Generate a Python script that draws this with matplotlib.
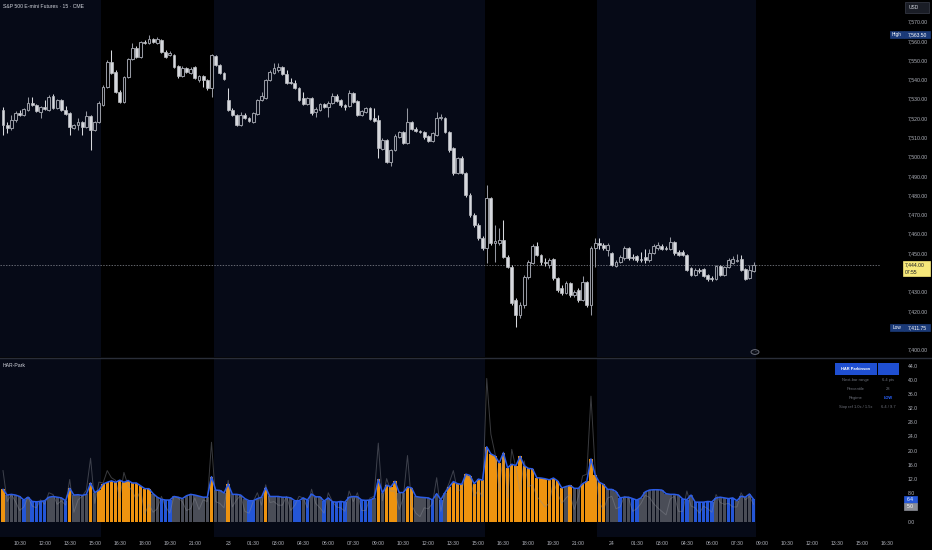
import numpy as np
import matplotlib
matplotlib.use("Agg")
import matplotlib.pyplot as plt
from matplotlib.patches import Rectangle, Circle
from matplotlib.transforms import blended_transform_factory as blend

# ---- price data (15 min bars) ----
open_ = [
    7524.5, 7516.5, 7515.0, 7519.25, 7522.75, 7521.75, 7524.5, 7528.0, 7527.0, 7523.5,
    7526.0, 7524.5, 7531.75, 7525.5, 7529.5, 7524.5, 7522.75, 7515.0, 7516.5, 7518.25,
    7515.5, 7521.25, 7514.0, 7518.25, 7527.0, 7536.25, 7549.25, 7544.0, 7533.75, 7528.5,
    7541.5, 7550.75, 7556.5, 7552.0, 7559.5, 7559.0, 7561.25, 7559.0, 7560.75, 7554.5,
    7553.0, 7553.0, 7547.25, 7542.0, 7546.25, 7543.5, 7546.75, 7540.0, 7542.0, 7540.0,
    7535.75, 7552.5, 7547.75, 7543.5, 7529.5, 7524.5, 7521.75, 7516.5, 7521.75, 7520.25,
    7518.25, 7522.25, 7529.5, 7530.5, 7540.0, 7543.5, 7545.0, 7546.75, 7543.0, 7539.0,
    7538.5, 7535.75, 7530.5, 7527.5, 7530.5, 7523.5, 7524.5, 7527.5, 7526.0, 7528.0,
    7531.75, 7529.5, 7527.0, 7526.5, 7533.25, 7529.0, 7521.75, 7523.5, 7525.5, 7520.25,
    7519.25, 7504.25, 7508.75, 7497.5, 7503.75, 7510.5, 7513.0, 7507.25, 7518.25, 7514.5,
    7513.5, 7513.0, 7511.0, 7508.25, 7511.5, 7520.25, 7520.25, 7513.0, 7504.75, 7491.75,
    7499.5, 7491.75, 7480.5, 7470.0, 7464.75, 7458.0, 7453.0, 7478.75, 7455.5, 7455.5,
    7457.0, 7448.25, 7443.0, 7426.0, 7418.25, 7423.5, 7438.0, 7445.0, 7454.0, 7449.25,
    7445.5, 7444.0, 7447.25, 7437.5, 7432.25, 7429.5, 7434.75, 7428.5, 7431.0, 7426.0,
    7435.25, 7423.5, 7453.0, 7455.5, 7454.5, 7452.0, 7450.25, 7443.5, 7445.5, 7447.75,
    7453.0, 7448.25, 7448.75, 7447.25, 7448.25, 7446.75, 7450.25, 7453.0, 7454.0, 7453.0,
    7452.5, 7456.0, 7450.75, 7450.75, 7449.25, 7442.5, 7439.0, 7441.5, 7442.0, 7439.0,
    7437.5, 7436.75, 7443.5, 7439.0, 7443.0, 7445.0, 7446.25, 7447.25, 7442.0, 7437.5,
    7441.0,
]
high = [
    7526.0, 7518.25, 7521.75, 7524.0, 7524.5, 7525.5, 7531.0, 7531.0, 7527.5, 7526.5,
    7529.5, 7532.25, 7532.75, 7530.0, 7530.0, 7526.5, 7523.5, 7517.25, 7520.25, 7518.75,
    7524.0, 7521.75, 7518.75, 7529.0, 7537.5, 7550.25, 7555.5, 7545.0, 7534.75, 7542.0,
    7551.25, 7559.0, 7557.5, 7560.25, 7560.75, 7563.5, 7561.75, 7562.25, 7561.25, 7555.5,
    7555.0, 7553.5, 7547.75, 7547.25, 7546.75, 7546.75, 7547.25, 7542.5, 7542.5, 7540.5,
    7553.5, 7553.0, 7548.25, 7544.0, 7535.75, 7525.5, 7522.25, 7523.5, 7522.75, 7520.75,
    7523.5, 7530.0, 7533.75, 7540.5, 7545.0, 7548.75, 7548.75, 7547.25, 7545.0, 7541.0,
    7540.0, 7536.25, 7533.75, 7531.0, 7531.0, 7526.0, 7528.0, 7528.0, 7529.0, 7533.25,
    7532.75, 7530.0, 7527.5, 7534.75, 7533.75, 7529.5, 7524.5, 7526.0, 7526.0, 7525.5,
    7521.75, 7509.75, 7509.25, 7504.25, 7512.0, 7513.5, 7513.5, 7525.5, 7518.75, 7515.5,
    7514.0, 7513.5, 7511.5, 7513.0, 7523.5, 7522.25, 7520.75, 7513.5, 7505.25, 7500.0,
    7500.5, 7492.25, 7481.5, 7471.0, 7466.0, 7459.0, 7485.5, 7479.25, 7464.75, 7463.25,
    7467.5, 7449.25, 7444.0, 7427.0, 7425.0, 7439.0, 7446.75, 7455.0, 7456.0, 7449.75,
    7447.75, 7447.75, 7447.75, 7438.0, 7433.75, 7435.75, 7435.25, 7431.0, 7432.25, 7438.5,
    7435.75, 7453.75, 7458.0, 7458.0, 7455.5, 7455.5, 7450.75, 7446.75, 7449.25, 7454.0,
    7453.5, 7449.75, 7449.25, 7450.75, 7452.5, 7452.5, 7455.0, 7456.0, 7455.0, 7454.0,
    7458.5, 7456.5, 7451.75, 7451.75, 7449.75, 7443.0, 7442.5, 7442.5, 7442.5, 7439.5,
    7438.5, 7444.0, 7444.0, 7443.5, 7447.75, 7448.75, 7449.75, 7449.25, 7442.5, 7444.0,
    7445.5,
]
low = [
    7511.5, 7512.5, 7514.0, 7518.25, 7521.25, 7521.25, 7524.0, 7526.5, 7523.5, 7520.25,
    7524.5, 7524.0, 7525.0, 7525.0, 7524.0, 7521.75, 7511.5, 7514.5, 7514.0, 7511.5,
    7515.0, 7503.75, 7513.5, 7517.75, 7526.5, 7535.75, 7543.0, 7533.25, 7528.0, 7528.0,
    7541.0, 7550.25, 7551.25, 7551.25, 7558.5, 7558.5, 7559.0, 7558.5, 7554.0, 7551.25,
    7552.5, 7546.25, 7541.0, 7541.5, 7543.5, 7543.0, 7540.5, 7539.0, 7536.25, 7534.75,
    7531.0, 7547.25, 7543.0, 7540.0, 7524.0, 7521.25, 7516.0, 7516.0, 7519.75, 7518.25,
    7517.75, 7521.75, 7529.0, 7530.0, 7539.5, 7543.0, 7544.0, 7542.5, 7537.75, 7537.75,
    7535.25, 7529.0, 7527.0, 7527.0, 7521.75, 7520.75, 7524.0, 7525.5, 7520.75, 7527.5,
    7528.5, 7526.0, 7524.5, 7526.0, 7528.0, 7521.25, 7521.25, 7522.75, 7519.25, 7518.25,
    7499.5, 7503.75, 7497.0, 7495.5, 7503.25, 7510.0, 7506.75, 7506.75, 7514.0, 7513.0,
    7512.5, 7509.5, 7507.75, 7507.75, 7511.0, 7519.25, 7512.5, 7502.5, 7490.75, 7491.25,
    7491.25, 7479.25, 7469.0, 7463.75, 7457.0, 7452.0, 7445.0, 7454.5, 7445.5, 7454.5,
    7447.75, 7442.5, 7423.5, 7411.75, 7416.5, 7421.75, 7436.75, 7444.5, 7448.75, 7444.0,
    7443.5, 7442.5, 7436.25, 7430.0, 7428.5, 7429.0, 7427.5, 7427.5, 7425.0, 7425.5,
    7422.25, 7418.25, 7443.0, 7452.5, 7452.0, 7448.75, 7443.5, 7443.0, 7445.0, 7446.75,
    7446.75, 7446.75, 7445.5, 7445.5, 7445.0, 7445.5, 7449.75, 7452.0, 7452.0, 7452.0,
    7452.0, 7449.25, 7448.75, 7448.75, 7441.0, 7438.5, 7438.5, 7440.0, 7438.0, 7435.75,
    7435.75, 7436.25, 7438.5, 7438.5, 7442.5, 7444.5, 7445.5, 7441.0, 7436.25, 7436.75,
    7440.5,
]
close = [
    7516.5, 7515.0, 7519.25, 7522.75, 7521.75, 7525.0, 7528.0, 7527.0, 7524.0, 7526.0,
    7525.0, 7531.0, 7525.5, 7529.5, 7524.5, 7522.25, 7515.5, 7516.5, 7518.25, 7515.5,
    7521.25, 7514.0, 7518.25, 7528.0, 7536.25, 7549.25, 7543.5, 7533.75, 7528.5, 7541.5,
    7550.75, 7556.5, 7552.0, 7559.5, 7559.0, 7561.25, 7559.5, 7561.25, 7554.5, 7552.0,
    7554.0, 7546.75, 7542.0, 7546.25, 7544.0, 7545.5, 7541.0, 7542.0, 7540.0, 7535.75,
    7553.0, 7547.75, 7543.5, 7540.5, 7524.5, 7521.75, 7516.5, 7521.75, 7520.25, 7518.75,
    7522.75, 7529.5, 7531.75, 7540.0, 7544.0, 7546.25, 7546.75, 7543.0, 7538.5, 7538.5,
    7535.75, 7529.5, 7527.5, 7530.5, 7522.75, 7525.0, 7527.5, 7526.0, 7528.0, 7531.75,
    7529.0, 7527.0, 7526.0, 7533.25, 7528.5, 7521.75, 7524.0, 7525.5, 7519.75, 7518.75,
    7504.75, 7508.75, 7497.5, 7503.75, 7511.0, 7513.0, 7507.25, 7518.25, 7514.5, 7513.5,
    7513.0, 7510.5, 7508.25, 7512.5, 7520.25, 7520.75, 7513.0, 7503.75, 7491.75, 7499.5,
    7491.75, 7480.5, 7470.0, 7464.75, 7458.0, 7453.0, 7478.75, 7455.5, 7456.5, 7457.0,
    7448.25, 7443.0, 7424.5, 7418.25, 7423.5, 7438.0, 7445.5, 7454.0, 7449.25, 7445.5,
    7445.0, 7446.75, 7437.5, 7431.0, 7429.5, 7434.75, 7428.5, 7430.0, 7426.0, 7435.25,
    7423.5, 7453.0, 7455.5, 7454.5, 7453.0, 7454.5, 7444.0, 7445.5, 7448.25, 7453.0,
    7447.75, 7447.75, 7446.75, 7446.75, 7446.75, 7450.25, 7454.0, 7454.5, 7452.5, 7452.5,
    7456.0, 7450.25, 7449.25, 7449.25, 7441.5, 7439.0, 7441.5, 7441.0, 7438.5, 7436.75,
    7436.75, 7443.5, 7439.0, 7443.0, 7446.75, 7447.25, 7446.75, 7441.5, 7436.75, 7441.5,
    7444.0,
]

# ---- HAR-Park indicator: forecast range and regime per bar ----
forecast = [
    9.2, 7.6, 7.8, 7.6, 7.2, 6.2, 7.0, 5.8, 5.7, 5.8,
    6.0, 7.0, 7.2, 7.0, 6.8, 6.0, 9.5, 7.6, 7.7, 7.5,
    7.8, 11.0, 8.3, 9.0, 10.7, 11.2, 11.6, 11.2, 11.8, 11.2,
    11.7, 11.0, 11.0, 10.2, 9.4, 9.4, 8.0, 7.0, 6.4, 6.2,
    6.2, 7.2, 7.0, 6.6, 7.4, 7.8, 7.6, 7.3, 7.0, 7.0,
    12.8, 9.0, 8.9, 8.2, 10.7, 7.8, 7.8, 7.6, 6.6, 6.0,
    6.0, 6.6, 7.0, 9.7, 7.2, 7.2, 7.2, 7.0, 7.0, 6.8,
    6.0, 6.0, 6.8, 6.2, 7.9, 7.1, 7.1, 5.9, 6.8, 5.7,
    5.6, 5.8, 5.6, 7.0, 7.2, 7.1, 6.2, 6.1, 6.2, 6.7,
    12.0, 8.2, 10.4, 9.9, 11.5, 8.3, 8.3, 9.9, 9.6, 7.2,
    7.0, 6.9, 6.8, 6.2, 8.0, 6.3, 8.3, 9.9, 11.4, 10.8,
    10.6, 13.5, 13.1, 10.8, 12.1, 11.8, 21.2, 19.2, 18.6, 16.7,
    19.5, 15.3, 16.3, 15.9, 18.5, 15.9, 15.1, 15.0, 12.5, 12.4,
    12.2, 11.9, 12.4, 11.6, 9.6, 10.0, 10.3, 9.5, 9.5, 10.8,
    11.5, 17.8, 13.3, 11.2, 10.6, 9.2, 9.2, 8.6, 6.8, 7.0,
    7.0, 6.6, 6.2, 6.8, 8.5, 9.0, 9.1, 9.1, 9.0, 8.0,
    7.8, 7.8, 7.6, 6.5, 6.3, 7.6, 5.6, 5.6, 5.6, 5.8,
    5.7, 6.8, 7.0, 6.8, 6.6, 6.8, 6.0, 7.3, 7.0, 7.9,
    6.4,
]
# o = HIGH, g = NORMAL, b = LOW
regime = ("oggggbgbbb" "bggggboggg" "gogooooooo" "ooooooggbb" "bggggggggg"
          "ogggoggggb" "bggogggggg" "bbgbgggbgb" "bbbgggbbbg" "ogoooggoog"
          "gggbgbgooo" "oooooooooo" "oooooooooo" "ooooogoggo" "ooooogggbg"
          "gbbggggggg" "gggbbgbbbb" "bgggbbgggg" "b")

tick_pos = [4, 10, 16, 22, 28, 34, 40, 46, 54, 60, 66, 72, 78, 84, 90, 96, 102, 108,
            114, 120, 126, 132, 138, 146, 152, 158, 164, 170, 176, 182, 188, 194,
            200, 206, 212]
tick_lbl = ["10:30", "12:00", "13:30", "15:00", "16:30", "18:00", "19:30", "21:00", "23",
            "01:30", "03:00", "04:30", "06:00", "07:30", "09:00", "10:30", "12:00", "13:30",
            "15:00", "16:30", "18:00", "19:30", "21:00", "24", "01:30", "03:00", "04:30",
            "06:00", "07:30", "09:00", "10:30", "12:00", "13:30", "15:00", "16:30"]
price_ticks = [7400, 7420, 7430, 7450, 7460, 7470, 7480, 7490, 7500, 7510, 7520,
               7530, 7540, 7550, 7560, 7570]
ind_ticks = [0, 8, 12, 16, 20, 24, 28, 32, 36, 40, 44]
sessions = [(23.5, 50.5), (115.5, 142.5), (180.5, 215)]

plt.rcParams["font.family"] = ["Liberation Sans", "DejaVu Sans"]

W, H = 932, 550
NAVY = "#060a17"
TXT = "#b2b5be"
fig = plt.figure(figsize=(W / 100, H / 100), dpi=100, facecolor="black")


def fx(px):
    return px / W


def fy(py):
    return 1 - py / H


PR = 880
ax1 = fig.add_axes([0, fy(357), fx(PR), 357 / H], facecolor=NAVY)
ax2 = fig.add_axes([0, fy(537), fx(PR), (537 - 358) / H], facecolor=NAVY)
xl = (-3 / 4.17, (PR - 3) / 4.17)
for ax in (ax1, ax2):
    ax.set_xlim(*xl)
    for s in ax.spines.values():
        s.set_visible(False)
    ax.set_xticks([])
    ax.set_yticks([])
    for a, b in sessions:
        ax.axvspan(a, b, color="black", lw=0, zorder=0)
ax1.set_ylim(7396.4, 7581.4)
ax2.set_ylim(-4.23, 46.26)

o = np.array(open_)
h = np.array(high)
l = np.array(low)
c = np.array(close)
x = np.arange(len(c))
up = c > o
top = np.maximum(o, c)
bot = np.minimum(o, c)
bh = np.maximum(top - bot, 0.15)

FILL = "#d6d8dd"
HOLLOW = "#9598a1"
wcol = np.where(up, HOLLOW, FILL)
ax1.vlines(x, top, h, colors=wcol, lw=0.75, zorder=2)
ax1.vlines(x, l, bot, colors=wcol, lw=0.75, zorder=2)
ax1.bar(x[~up], bh[~up], bottom=bot[~up], width=0.68, color=FILL,
        edgecolor=FILL, lw=0.4, zorder=3)
ax1.bar(x[up], bh[up], bottom=bot[up], width=0.68, facecolor="none",
        edgecolor=HOLLOW, lw=0.75, zorder=3)

# last price line
ax1.axhline(close[-1], color="#8c8f98", lw=0.5, ls=(0, (2, 2)), zorder=1)

# ---- lower panel ----
rcol = {"o": "#ee930f", "g": "#4a4d57", "b": "#2456d6"}
ax2.bar(x, forecast, width=0.82, color=[rcol[r] for r in regime], lw=0, zorder=2)
rng = h - l
ax2.plot(x, rng, color="#8a8d96", lw=0.7, alpha=0.42, zorder=3)
ax2.plot(x, forecast, color="#2b5ce6", lw=1.1, zorder=4)

# panel separator
fig.add_artist(plt.Line2D([0, 1], [fy(357.5), fy(357.5)], color="#2a2e39", lw=1,
                          transform=fig.transFigure))

# ---- right price scale ----
tr1 = blend(fig.transFigure, ax1.transData)
for p in price_ticks:
    ax1.text(fx(907.5), p, f"{p:,.2f}", transform=tr1, fontsize=3.7, color=TXT,
             ha="left", va="center")
tr2 = blend(fig.transFigure, ax2.transData)
for v in ind_ticks:
    ax2.text(fx(907.5), v, f"{v:.1f}", transform=tr2, fontsize=3.7, color=TXT,
             ha="left", va="center")


def tag(ax, tr, x0, x1, yc, hh, fc, ec=None):
    ax.add_patch(Rectangle((fx(x0), yc - hh / 2), fx(x1 - x0), hh, transform=tr,
                           facecolor=fc, edgecolor=ec or fc, lw=0.5, clip_on=False,
                           zorder=10))


px1 = 1.93  # px per point
hi, lo = max(high), min(low)
for val, name in ((hi, "High"), (lo, "Low")):
    tag(ax1, tr1, 890, 903.5, val, 7.5 / px1, "#1b3a78")
    tag(ax1, tr1, 904, 930, val, 7.5 / px1, "#1b3a78")
    ax1.text(fx(896.8), val, name, transform=tr1, fontsize=3.4, color="white",
             ha="center", va="center", zorder=11)
    ax1.text(fx(917), val, f"{val:,.2f}", transform=tr1, fontsize=3.6, color="white",
             ha="center", va="center", zorder=11)

# current price tag
last = close[-1]
tag(ax1, tr1, 903, 930, last - 3.8 / px1, 15 / px1, "#f6e87a")
ax1.text(fx(905), last, f"{last:,.2f}", transform=tr1, fontsize=3.6,
         color="#131722", ha="left", va="center", zorder=11)
ax1.text(fx(905), last - 7.2 / px1, "07:55", transform=tr1, fontsize=3.6,
         color="#131722", ha="left", va="center", zorder=11)

# indicator value tags
px2 = 3.545
fcl = forecast[-1]
tag(ax2, tr2, 904, 917, fcl, 6.8 / px2, "#2456d6")
ax2.text(fx(910.5), fcl, f"{fcl:.1f}", transform=tr2, fontsize=3.6, color="white",
         ha="center", va="center", zorder=11)
rl = rng[-1]
tag(ax2, tr2, 904, 917, fcl - 7.2 / px2, 6.8 / px2, "#8a8d96")
ax2.text(fx(910.5), fcl - 7.2 / px2, f"{rl:.1f}", transform=tr2, fontsize=3.6,
         color="white", ha="center", va="center", zorder=11)

# USD box
fig.add_artist(Rectangle((fx(905), fy(13)), fx(24), 11 / H, transform=fig.transFigure,
                         facecolor="#1a1d26", edgecolor="#3a3e4a", lw=0.5))
fig.text(fx(909), fy(7.5), "USD", fontsize=3.5, color="#d1d4dc", va="center")

# ---- time axis ----
trx = blend(ax2.transData, fig.transFigure)
for t, s in zip(tick_pos, tick_lbl):
    ax2.text(t, fy(543.5), s, transform=trx, fontsize=3.7, color=TXT, ha="center",
             va="center", clip_on=False)

# ---- titles ----
fig.text(fx(3), fy(7), "S&P 500 E-mini Futures \u00b7 15 \u00b7 CME", fontsize=3.7,
         color="#d1d4dc", va="center")
fig.text(fx(3), fy(365.5), "HAR-Park", fontsize=3.7, color="#d1d4dc", va="center")

# small circle button
fig.add_artist(Circle((fx(755), fy(352)), 4 / W, transform=fig.transFigure,
                      facecolor="#0c0f18", edgecolor="#787b86", lw=0.6))
fig.text(fx(755), fy(352), "\u00b7", fontsize=4, color="#b2b5be", ha="center",
         va="center")

# ---- info table ----
fig.add_artist(Rectangle((fx(835), fy(375)), fx(42), 12 / H, transform=fig.transFigure,
                         facecolor="#1f4fd1", lw=0))
fig.add_artist(Rectangle((fx(877.7), fy(375)), fx(21.5), 12 / H,
                         transform=fig.transFigure, facecolor="#1f4fd1", lw=0))
fig.text(fx(856), fy(369), "HAR Parkinson", fontsize=2.9, color="white",
         weight="bold", ha="center", va="center")
rows = [("Next-bar range", "6.4 pts"), ("Percentile", "28"), ("Regime", "LOW"),
        ("Stop ref 1.0x / 1.5x", "6.4 / 9.7")]
for k, (a, b) in enumerate(rows):
    yy = fy(380 + 9 * k)
    fig.text(fx(856), yy, a, fontsize=2.9, color="#6f727c", ha="center", va="center")
    if b == "LOW":
        fig.text(fx(888), yy, b, fontsize=2.9, color="#2962ff", weight="bold",
                 ha="center", va="center")
    else:
        fig.text(fx(888), yy, b, fontsize=2.9, color="#6f727c", ha="center",
                 va="center")

fig.savefig("out.png", dpi=100, facecolor="black")
